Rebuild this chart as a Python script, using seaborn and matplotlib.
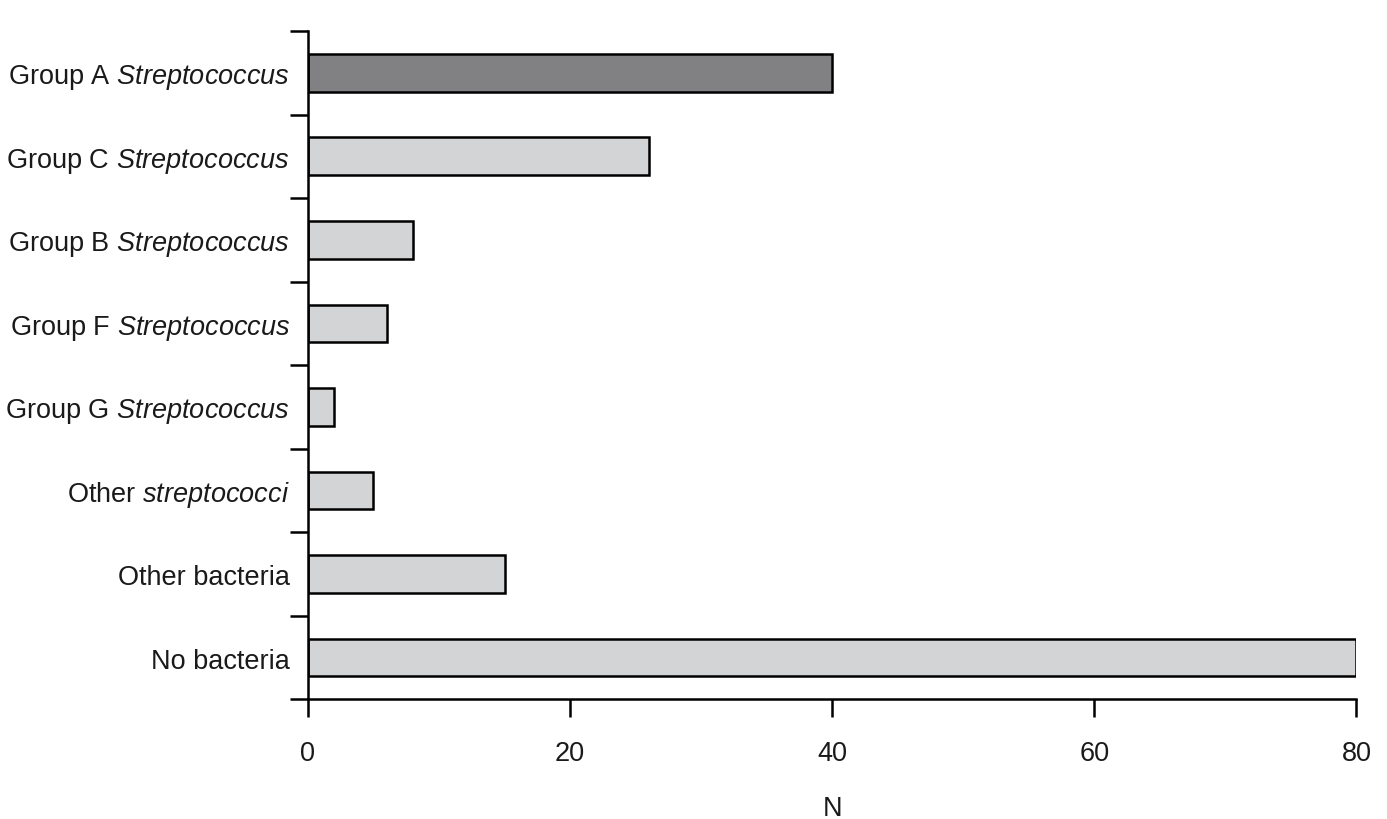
import matplotlib
matplotlib.use("Agg")
import matplotlib.pyplot as plt
import seaborn as sns
import pandas as pd
import numpy as np

categories = ["Group A $\\mathit{Streptococcus}$", "Group C $\\mathit{Streptococcus}$",
              "Group B $\\mathit{Streptococcus}$", "Group F $\\mathit{Streptococcus}$",
              "Group G $\\mathit{Streptococcus}$", "Other $\\mathit{streptococci}$",
              "Other bacteria", "No bacteria"]
values = [40, 26, 8, 6, 2, 5, 15, 80]
bar_colors = ["#808184", "#d3d4d6", "#d3d4d6", "#d3d4d6", "#d3d4d6", "#d3d4d6", "#d3d4d6", "#d3d4d6"]
xticks = [0, 20, 40, 60, 80]

sns.set_style("ticks")
fam = ["Liberation Sans", "DejaVu Sans"]
plt.rcParams["font.family"] = fam
plt.rcParams["mathtext.fontset"] = "custom"
plt.rcParams["mathtext.it"] = "Liberation Sans:italic"
plt.rcParams["mathtext.rm"] = "Liberation Sans"

fig = plt.figure(figsize=(13.87, 8.2), dpi=100)
ax = fig.add_axes([0.222, 0.146, 0.756, 0.815])

df = pd.DataFrame({"key": [str(i) for i in range(len(values))], "val": values})
sns.barplot(data=df, y="key", x="val", hue="key", palette=bar_colors, orient="h",
            width=0.45, edgecolor="black", linewidth=1.8, legend=False, ax=ax)

fs = 19.5
ax.set_xlim(0, 80)
ax.set_ylim(len(values) - 0.5, -0.5)
ax.set_xticks(xticks)
ax.set_xticklabels([str(t) for t in xticks], fontsize=fs)
ax.set_yticks(np.arange(len(values)))
ax.set_yticklabels(categories, fontsize=fs)
ax.set_yticks(np.arange(-0.5, len(values), 1.0), minor=True)
ax.tick_params(axis="y", which="major", length=0, pad=13)
ax.tick_params(axis="y", which="minor", length=13, width=1.8, direction="out", color="black")
ax.tick_params(axis="x", which="major", length=13, width=1.8, direction="out", pad=16, color="black")
ax.set_xlabel("N", fontsize=fs, labelpad=21)
ax.set_ylabel("")
for s in ["top", "right"]:
    ax.spines[s].set_visible(False)
for s in ["left", "bottom"]:
    ax.spines[s].set_linewidth(1.8)
    ax.spines[s].set_color("black")
for lab in ax.get_xticklabels() + ax.get_yticklabels():
    lab.set_color("#1a1a1a")
ax.xaxis.label.set_color("#1a1a1a")

fig.savefig("out.png", dpi=100, facecolor="white")
